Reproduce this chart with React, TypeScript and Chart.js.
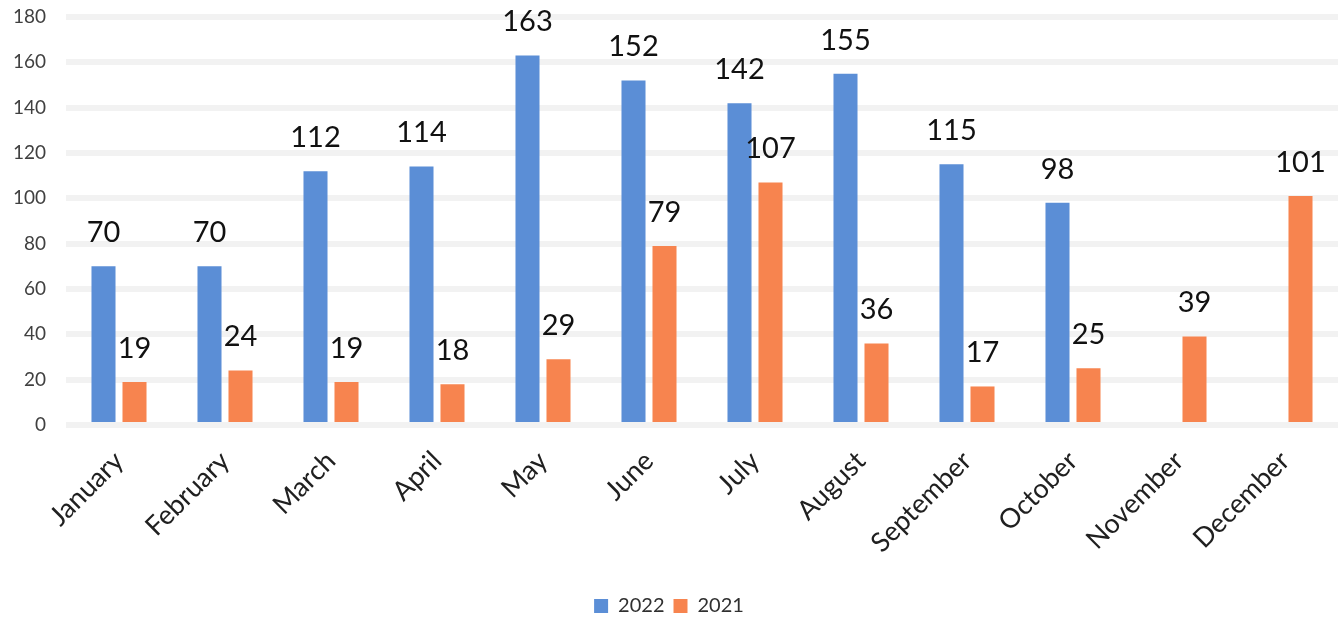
import React, { useEffect, useRef } from "react";
import { Chart, registerables } from "chart.js";

Chart.register(...registerables);

const months = ["January", "February", "March", "April", "May", "June", "July", "August", "September", "October", "November", "December"];
const values2022: (number | null)[] = [70, 70, 112, 114, 163, 152, 142, 155, 115, 98, null, null];
const values2021: (number | null)[] = [19, 24, 19, 18, 29, 79, 107, 36, 17, 25, 39, 101];
const yTicks = [0, 20, 40, 60, 80, 100, 120, 140, 160, 180];

const labelPlugin = {
  id: "barValueLabels",
  afterDatasetsDraw(chart: any) {
    const ctx = chart.ctx;
    ctx.save();
    ctx.font = "29px Lato, 'Open Sans', sans-serif";
    ctx.fillStyle = "#111111";
    ctx.textAlign = "center";
    ctx.textBaseline = "bottom";
    chart.data.datasets.forEach((ds: any, di: number) => {
      const meta = chart.getDatasetMeta(di);
      meta.data.forEach((bar: any, i: number) => {
        const v = ds.data[i];
        if (v === null || v === undefined) return;
        ctx.fillText(String(v), bar.x, bar.y - 19);
      });
    });
    ctx.restore();
  },
};

export default function App() {
  const ref = useRef<HTMLCanvasElement | null>(null);
  useEffect(() => {
    document.body.style.margin = "0";
    const chart = new Chart(ref.current!, {
      type: "bar",
      data: {
        labels: months,
        datasets: [
          { label: "2022", data: values2022, backgroundColor: "#5B8ED6", barPercentage: 0.775, categoryPercentage: 0.585 },
          { label: "2021", data: values2021, backgroundColor: "#F7844F", barPercentage: 0.775, categoryPercentage: 0.585 },
        ],
      },
      options: {
        animation: false,
        responsive: false,
        layout: { padding: { top: 17, right: 3, left: 0, bottom: -7 } },
        scales: {
          y: {
            min: 0,
            max: 180,
            afterBuildTicks: (scale: any) => {
              scale.ticks = yTicks.map((v) => ({ value: v }));
            },
            afterFit: (scale: any) => {
              scale.width = 66;
              scale.paddingTop = 0;
              scale.paddingBottom = 0;
            },
            ticks: {
              color: "#404040",
              font: { size: 19, family: "Lato, 'Open Sans', sans-serif" },
              padding: 20,
            },
            grid: { color: "#f2f2f2", lineWidth: 6, drawTicks: false },
            border: { display: false },
          },
          x: {
            afterFit: (scale: any) => {
              scale.height = 162;
            },
            ticks: {
              color: "#202020",
              font: { size: 27, family: "Lato, 'Open Sans', sans-serif" },
              maxRotation: 45,
              minRotation: 45,
              padding: 12,
            },
            grid: { display: false },
            border: { display: false },
          },
        },
        plugins: {
          legend: {
            position: "bottom",
            labels: {
              color: "#303030",
              font: { size: 20, family: "Lato, 'Open Sans', sans-serif" },
              boxWidth: 14,
              boxHeight: 14,
              padding: 9,
            },
          },
          tooltip: { enabled: false },
        },
      },
      plugins: [labelPlugin],
    });
    return () => chart.destroy();
  }, []);
  return (
    <div style={{ width: 1341, height: 619 }}>
      <canvas ref={ref} width={1341} height={619} style={{ width: 1341, height: 619 }} />
    </div>
  );
}
